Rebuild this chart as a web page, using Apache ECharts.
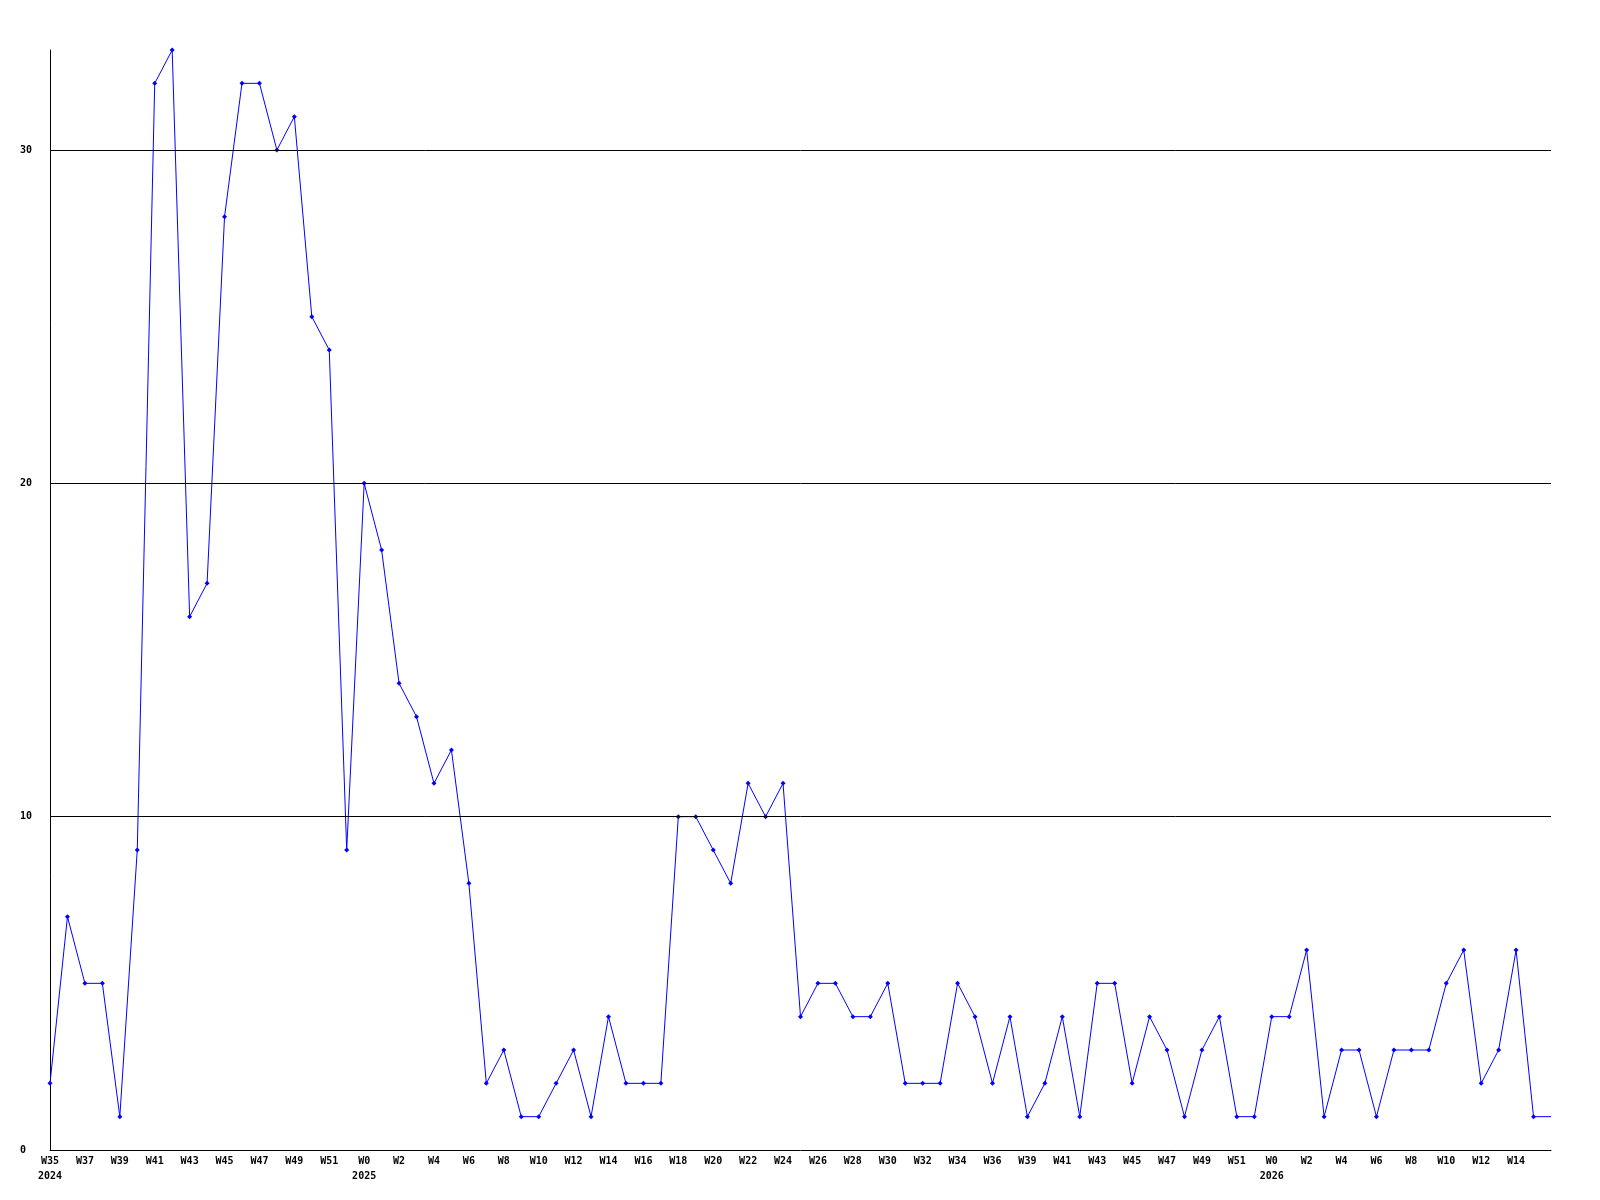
<!DOCTYPE html>
<html>
<head>
<meta charset="utf-8">
<script src="https://cdn.jsdelivr.net/npm/echarts@6/dist/echarts.min.js"></script>
<style>
  html, body { margin: 0; padding: 0; background: #fff; }
  #chart { width: 1600px; height: 1200px; }
</style>
</head>
<body>
<div id="chart"></div>
<script>
// weeks shown on the x axis (2024 W35 .. 2026 W16)
var weeks = [
  'W35','W36','W37','W38','W39','W40','W41','W42','W43','W44','W45','W46','W47','W48','W49','W50','W51','W52',
  'W0','W1','W2','W3','W4','W5','W6','W7','W8','W9','W10','W11','W12','W13','W14','W15','W16','W17','W18','W19',
  'W20','W21','W22','W23','W24','W25','W26','W27','W28','W29','W30','W31','W32','W33','W34','W35','W36','W38',
  'W39','W40','W41','W42','W43','W44','W45','W46','W47','W48','W49','W50','W51','W52',
  'W0','W1','W2','W3','W4','W5','W6','W7','W8','W9','W10','W11','W12','W13','W14','W15','W16'
];
// year label under the first week of each year
var yearIndex = [0, 18, 70];
var yearText = ['2024', '2025', '2026'];

var counts = [
  2, 7, 5, 5, 1, 9, 32, 33, 16, 17, 28, 32, 32, 30, 31, 25, 24, 9,
  20, 18, 14, 13, 11, 12, 8, 2, 3, 1, 1, 2, 3, 1, 4, 2, 2, 2, 10, 10,
  9, 8, 11, 10, 11, 4, 5, 5, 4, 4, 5, 2, 2, 2, 5, 4, 2, 4,
  1, 2, 4, 1, 5, 5, 2, 4, 3, 1, 3, 4, 1, 1,
  4, 4, 6, 1, 3, 3, 1, 3, 3, 3, 5, 6, 2, 3, 6, 1, 1
];
var gridLines = [10, 20, 30];

var font = '"DejaVu Sans Mono", monospace';

var chart = echarts.init(document.getElementById('chart'));

// last point is the edge of the plot, no marker drawn there
var seriesData = counts.map(function (v, i) {
  if (i === counts.length - 1) {
    return { value: v, symbolSize: 0 };
  }
  return v;
});

var option = {
  animation: false,
  backgroundColor: '#fff',
  grid: { left: 50, right: 49, top: 50, bottom: 50 },
  xAxis: {
    type: 'category',
    data: weeks,
    boundaryGap: false,
    axisLine: { lineStyle: { color: '#000', width: 1 } },
    axisTick: { show: false },
    splitLine: { show: false },
    axisLabel: {
      interval: function (index) {
        return index % 2 === 0 && index < weeks.length - 1;
      },
      margin: 4,
      color: '#000',
      fontFamily: font,
      fontWeight: 'bold',
      fontSize: 10,
      lineHeight: 15,
      formatter: function (val, index) {
        var k = yearIndex.indexOf(index);
        return k >= 0 ? val + '\n' + yearText[k] : val;
      }
    }
  },
  yAxis: {
    type: 'value',
    min: 0,
    max: 33,
    interval: 10,
    axisLine: { show: true, lineStyle: { color: '#000', width: 1 } },
    axisTick: { show: false },
    splitLine: { show: false },
    axisLabel: {
      showMaxLabel: false,
      align: 'left',
      margin: 30,
      color: '#000',
      fontFamily: font,
      fontWeight: 'bold',
      fontSize: 10,
      formatter: function (v) {
        return v % 10 === 0 ? String(v) : '';
      }
    }
  },
  series: [
    {
      type: 'line',
      data: seriesData,
      symbol: 'diamond',
      symbolSize: 5,
      showAllSymbol: true,
      lineStyle: { color: '#0000ff', width: 1 },
      itemStyle: { color: '#0000ff' },
      markLine: {
        silent: true,
        symbol: ['none', 'none'],
        label: { show: false },
        lineStyle: { color: '#000', type: 'solid', width: 1 },
        data: gridLines.map(function (v) { return { yAxis: v }; })
      }
    }
  ]
};

chart.setOption(option);
</script>
</body>
</html>
